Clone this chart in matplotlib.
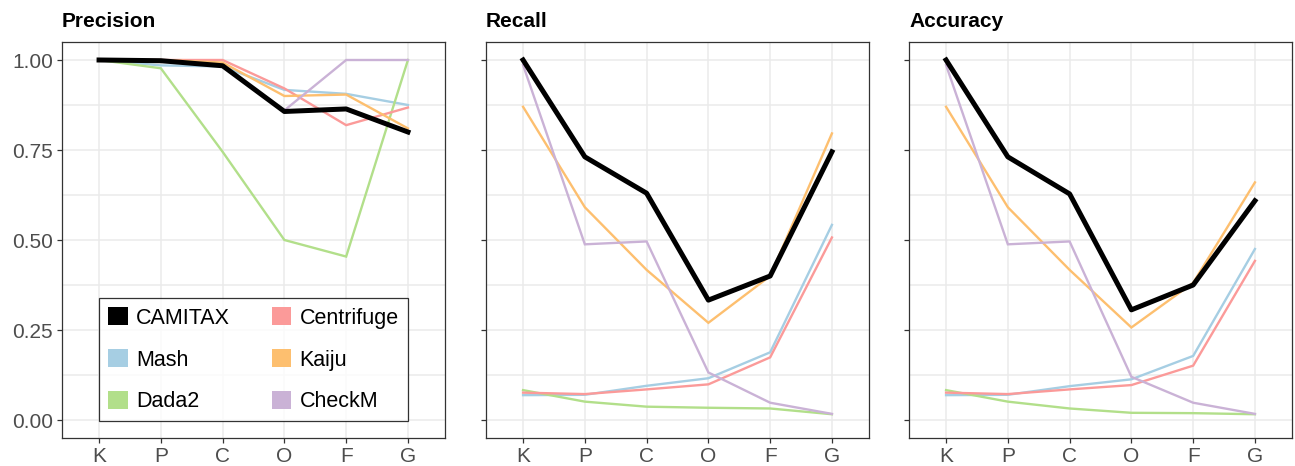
import matplotlib
matplotlib.use('Agg')
import matplotlib.pyplot as plt
from matplotlib.patches import Patch
import numpy as np

plt.rcParams['font.family'] = ['Liberation Sans', 'DejaVu Sans']

ranks = ['K', 'P', 'C', 'O', 'F', 'G']
tools = ['CAMITAX', 'Mash', 'Dada2', 'Centrifuge', 'Kaiju', 'CheckM']
colors = {'CAMITAX': '#000000', 'Mash': '#A6CEE3', 'Dada2': '#B2DF8A',
          'Centrifuge': '#FB9A99', 'Kaiju': '#FDBF6F', 'CheckM': '#CAB2D6'}

precision = {
    'CAMITAX':    [1.000, 0.998, 0.984, 0.857, 0.864, 0.800],
    'Mash':       [1.000, 0.985, 0.982, 0.917, 0.906, 0.875],
    'Dada2':      [1.000, 0.977, 0.745, 0.500, 0.454, 1.000],
    'Centrifuge': [1.000, 1.000, 1.000, 0.921, 0.819, 0.868],
    'Kaiju':      [1.000, 1.000, 0.993, 0.900, 0.904, 0.810],
    'CheckM':     [1.000, 1.000, 0.985, 0.860, 1.000, 1.000],
}
recall = {
    'CAMITAX':    [1.000, 0.731, 0.630, 0.333, 0.400, 0.745],
    'Mash':       [0.069, 0.070, 0.095, 0.116, 0.188, 0.542],
    'Dada2':      [0.083, 0.051, 0.037, 0.034, 0.032, 0.016],
    'Centrifuge': [0.076, 0.072, 0.085, 0.099, 0.174, 0.507],
    'Kaiju':      [0.870, 0.591, 0.417, 0.270, 0.400, 0.796],
    'CheckM':     [0.986, 0.488, 0.496, 0.132, 0.048, 0.017],
}
accuracy = {
    'CAMITAX':    [1.000, 0.731, 0.628, 0.306, 0.375, 0.609],
    'Mash':       [0.069, 0.070, 0.094, 0.113, 0.178, 0.475],
    'Dada2':      [0.083, 0.051, 0.032, 0.020, 0.019, 0.016],
    'Centrifuge': [0.076, 0.072, 0.085, 0.097, 0.151, 0.442],
    'Kaiju':      [0.870, 0.591, 0.417, 0.257, 0.381, 0.660],
    'CheckM':     [0.986, 0.488, 0.496, 0.120, 0.048, 0.017],
}

panels = [('Precision', precision), ('Recall', recall), ('Accuracy', accuracy)]
lefts = [62, 486, 909]
W, H = 1295, 466

fig = plt.figure(figsize=(W / 100, H / 100), dpi=100)
x = np.arange(len(ranks))
draw_order = ['Mash', 'Dada2', 'Centrifuge', 'Kaiju', 'CheckM', 'CAMITAX']

for i, (title, data) in enumerate(panels):
    ax = fig.add_axes([lefts[i] / W, 28 / H, 383 / W, 396 / H])
    ax.set_xlim(-0.6, 5.6)
    ax.set_ylim(-0.05, 1.05)
    ax.set_xticks(x)
    ax.set_xticklabels(ranks)
    ax.set_yticks([0, 0.25, 0.5, 0.75, 1.0])
    ax.set_yticks([0.125, 0.375, 0.625, 0.875], minor=True)
    if i == 0:
        ax.set_yticklabels(['0.00', '0.25', '0.50', '0.75', '1.00'])
    else:
        ax.set_yticklabels([])
    ax.grid(True, which='major', color='#EBEBEB', linewidth=1.1)
    ax.grid(True, which='minor', axis='y', color='#EBEBEB', linewidth=1.1)
    ax.set_axisbelow(True)
    ax.tick_params(axis='both', which='major', length=3.5, width=0.9,
                   color='#333333', labelcolor='#4D4D4D', labelsize=15, pad=3)
    ax.tick_params(axis='y', which='minor', length=0)
    for s in ax.spines.values():
        s.set_color('#333333')
        s.set_linewidth(0.9)
    for t in draw_order:
        lw = 3.6 if t == 'CAMITAX' else 1.7
        ax.plot(x, data[t], color=colors[t], linewidth=lw,
                solid_joinstyle='miter' if t != 'CAMITAX' else 'round',
                zorder=3 if t == 'CAMITAX' else 2)
    ax.set_title(title, loc='left', fontsize=15, fontweight='bold', pad=11)

    if i == 0:
        handles = [Patch(facecolor=colors[t], edgecolor='none') for t in tools]
        leg = ax.legend(handles, tools, loc='lower left',
                        bbox_to_anchor=(0.097, 0.042, 0.806, 0.316),
                        mode='expand', ncol=2, fontsize=15.5,
                        frameon=True, fancybox=False, borderaxespad=0,
                        handlelength=0.9, handleheight=0.9,
                        labelspacing=0.95, handletextpad=0.4,
                        borderpad=0.42, columnspacing=1.0)
        leg.get_frame().set_edgecolor('black')
        leg.get_frame().set_linewidth(0.9)
        leg.set_zorder(5)

fig.savefig('out.png', dpi=100)
